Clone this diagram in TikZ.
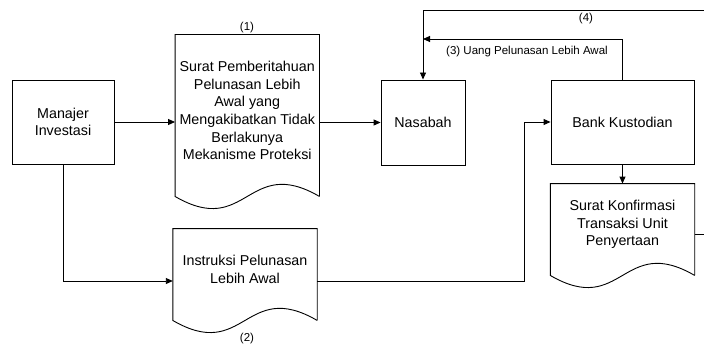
\documentclass[tikz,border=0pt]{standalone}
\usepackage{fontspec}
\setmainfont{Liberation Sans}
\usetikzlibrary{arrows.meta,calc}
\newcommand{\docoutline}[1]{%
	\draw ([yshift=-10pt]#1.south east) -- (#1.north east) -- (#1.north west) -- ([yshift=-10pt]#1.south west)
		.. controls ($([yshift=-10pt]#1.south west)!0.5!([yshift=-10pt]#1.south east)+(0,42)$) and ($([yshift=-10pt]#1.south west)!0.5!([yshift=-10pt]#1.south east)+(0,-42)$) .. ([yshift=-10pt]#1.south east);}
\tikzset{
	box/.style={draw, align=center, inner sep=1pt, font=\fontsize{14.3}{17.6}\selectfont},
	docu/.style={align=center, inner sep=1pt, minimum width=143.5pt, font=\fontsize{14.3}{17.6}\selectfont},
	tag/.style={inner sep=0pt, font=\fontsize{11.5}{13.8}\selectfont},
	arr/.style={-{Triangle[length=7pt,width=6pt]}}
}
\begin{document}
\begin{tikzpicture}[x=1pt, y=-1pt, line width=0.9pt]
	\useasboundingbox (0,0) rectangle (704,345);
	\clip (0,0) rectangle (704,345);

	\node[box, minimum width=102pt, minimum height=84pt] (mi) at (63,122) {Manajer\\Investasi};
	\node[box, minimum width=84pt, minimum height=85pt] (nas) at (423,122.5) {Nasabah};
	\node[box, minimum width=143pt, minimum height=84pt] (bk) at (622.5,122) {Bank Kustodian};

	\node[docu, minimum height=151pt] (surat) at (247.25,110.5) {Surat Pemberitahuan\\Pelunasan Lebih\\Awal yang\\Mengakibatkan Tidak\\Berlakunya\\Mekanisme Proteksi};
	\node[docu, minimum height=81pt] (instr) at (245,269.5) {Instruksi Pelunasan\\Lebih Awal};
	\node[docu, minimum height=81pt] (konf) at (622.5,224.5) {Surat Konfirmasi\\Transaksi Unit\\Penyertaan};
	\docoutline{surat}
	\docoutline{instr}
	\docoutline{konf}

	\node[tag] (ta) at (247,28) {(1)};
	\node[tag] (tb) at (247,339) {(2)};
	\node[tag] (tc) at (527,52) {(3) Uang Pelunasan Lebih Awal};
	\node[tag] (td) at (586,19) {(4)};

	\coordinate (turn) at (524,281);
	\coordinate (c3) at (423,39);
	\coordinate (c4) at (708,10);

	\draw[arr] (mi) -- (mi -| surat.west);
	\draw[arr] (surat.east |- nas) -- (nas);
	\draw[arr] (mi.south) |- ([yshift=-11.5pt]instr.west);
	\draw[arr] ([yshift=-11.5pt]instr.east) -- (turn) |- (bk);
	\draw[arr] (bk) -- (konf);
	\draw[arr] (bk.north) |- (c3);
	\draw[arr] ([yshift=-9.5pt]konf.east) -| (c4) -| (nas.north);
\end{tikzpicture}
\end{document}
